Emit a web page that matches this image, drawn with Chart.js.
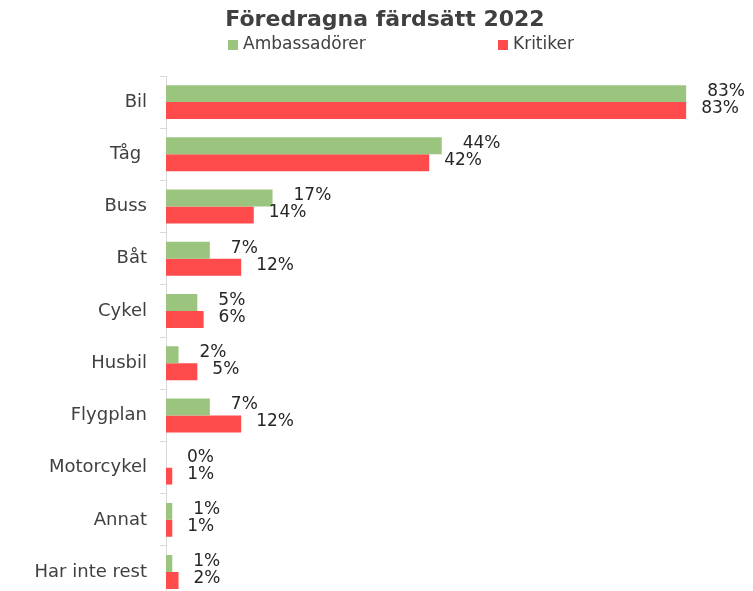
<!DOCTYPE html>
<html>
<head>
<meta charset="utf-8">
<script src="https://cdn.jsdelivr.net/npm/chart.js@4/dist/chart.umd.min.js"></script>
<style>
  html, body { margin: 0; padding: 0; background: #fff; overflow: hidden; }
  canvas { display: block; }
</style>
</head>
<body>
<canvas id="chart" width="753" height="622"></canvas>
<script>
const categories = ['Bil', 'Tåg ', 'Buss', 'Båt', 'Cykel', 'Husbil', 'Flygplan', 'Motorcykel', 'Annat', 'Har inte rest'];
const ambassadorer = [83, 44, 17, 7, 5, 2, 7, 0, 1, 1];
const kritiker = [83, 42, 14, 12, 6, 5, 12, 1, 1, 2];
const seriesNames = ['Ambassadörer', 'Kritiker'];

const FONT = 'DejaVu Sans';
const TEXT = '#404040';

// value labels right of each bar
const barLabels = {
  id: 'barLabels',
  afterDatasetsDraw(chart) {
    const ctx = chart.ctx;
    ctx.save();
    ctx.font = '17px "' + FONT + '"';
    ctx.fillStyle = '#262626';
    ctx.textAlign = 'left';
    ctx.textBaseline = 'middle';
    chart.data.datasets.forEach((ds, i) => {
      const meta = chart.getDatasetMeta(i);
      const gap = i === 0 ? 21 : 15;
      meta.data.forEach((bar, j) => {
        ctx.fillText(ds.data[j] + '%', bar.x + gap, bar.y - 2);
      });
    });
    ctx.restore();
  }
};

// legend spread out like the original, title nudged right
const spreadLegend = {
  id: 'spreadLegend',
  afterLayout(chart) {
    if (chart.titleBlock) {
      chart.titleBlock.left = 40;
    }
  },
  afterDraw(chart) {
    const ctx = chart.ctx;
    const xs = [228, 498];
    ctx.save();
    ctx.font = '17px "' + FONT + '"';
    ctx.textBaseline = 'middle';
    ctx.textAlign = 'left';
    chart.data.datasets.forEach((ds, i) => {
      ctx.fillStyle = ds.backgroundColor;
      ctx.fillRect(xs[i], 40, 10, 10);
      ctx.fillStyle = TEXT;
      ctx.fillText(ds.label, xs[i] + 15, 45);
    });
    ctx.restore();
  }
};

new Chart(document.getElementById('chart'), {
  type: 'bar',
  data: {
    labels: categories,
    datasets: [
      { label: seriesNames[0], data: ambassadorer, backgroundColor: '#9BC57F' },
      { label: seriesNames[1], data: kritiker, backgroundColor: '#FF4B4B' }
    ]
  },
  options: {
    indexAxis: 'y',
    responsive: false,
    animation: false,
    layout: { padding: { left: 0, right: 23, top: 0, bottom: 7 } },
    datasets: { bar: { categoryPercentage: 0.65, barPercentage: 1 } },
    scales: {
      x: { display: false, min: 0, max: 90 },
      y: {
        afterFit: (s) => { s.width = 166; },
        border: { color: '#d9d9d9', width: 1 },
        grid: { offset: true, drawOnChartArea: false, tickLength: 6, color: '#d9d9d9' },
        ticks: { color: TEXT, font: { family: FONT, size: 18 }, padding: 13 }
      }
    },
    plugins: {
      legend: { display: false },
      tooltip: { enabled: false },
      title: {
        display: true,
        text: 'Föredragna färdsätt 2022',
        color: TEXT,
        font: { family: FONT, size: 22, weight: 'bold' },
        padding: { top: 7, bottom: 42.6 }
      }
    }
  },
  plugins: [barLabels, spreadLegend]
});
</script>
</body>
</html>
